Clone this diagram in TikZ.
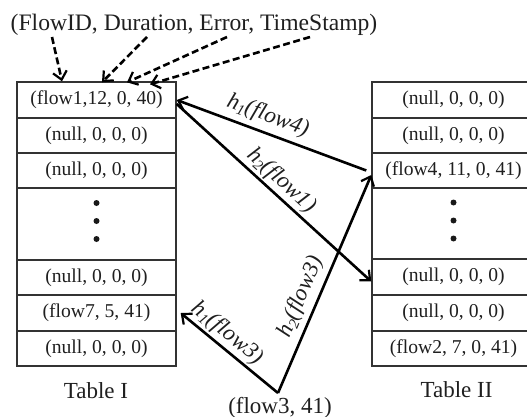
\documentclass[tikz,border=0pt]{standalone}
\usepackage{fontspec}
\setmainfont{Liberation Serif}
\usetikzlibrary{arrows.meta}
% hash function label: h_i(flow)
\newcommand{\hfn}[2]{\textit{h}\raisebox{-0.35ex}{\fontsize{15}{15}\selectfont\textit{#1}}\textit{(#2)}}

\begin{document}
\begin{tikzpicture}[x=1pt,y=-1pt,
  cell/.style={draw=black!80, line width=1.4pt, inner sep=0pt,
    font=\fontsize{19.6}{22}\selectfont, text=black!88},
  cellA/.style={cell, minimum width=159pt},
  cellB/.style={cell, minimum width=163pt},
  caption/.style={inner sep=0pt, anchor=base, font=\fontsize{23}{26}\selectfont, text=black!88},
  lab/.style={inner sep=2pt, font=\fontsize{23}{26}\selectfont, text=black!88},
  arr/.style={-{Straight Barb[length=8pt,width=14pt,line width=2.2pt]}, line width=2.6pt},
  dasharr/.style={arr, dash pattern=on 7pt off 3.5pt},
  dot/.style={fill=black!90}
]
\useasboundingbox (0,0) rectangle (527,417);

% header with the tuple fields
\node[caption, font=\fontsize{23.6}{26}\selectfont] (hdr) at (194,31) {(FlowID, Duration, Error, TimeStamp)};

% Table I
\node[cellA, minimum height=36pt] (a1) at (96.5,100)   {(flow1,12, 0, 40)};
\node[cellA, minimum height=35pt] (a2) at (96.5,135.5) {(null, 0, 0, 0)};
\node[cellA, minimum height=35pt] (a3) at (96.5,170.5) {(null, 0, 0, 0)};
\node[cellA, minimum height=72pt] (a4) at (96.5,224)   {};
\node[cellA, minimum height=35pt] (a5) at (96.5,277.5) {(null, 0, 0, 0)};
\node[cellA, minimum height=36pt] (a6) at (96.5,313)   {(flow7, 5, 41)};
\node[cellA, minimum height=35pt] (a7) at (96.5,348.5) {(null, 0, 0, 0)};
\foreach \d in {-21,-3,15} \fill[dot] ([yshift=-\d pt]a4.center) circle (3pt);
\node[caption] (capA) at (96,398) {Table I};

% Table II
\node[cellB, minimum height=36pt] (b1) at (453.5,100)   {(null, 0, 0, 0)};
\node[cellB, minimum height=35pt] (b2) at (453.5,135.5) {(null, 0, 0, 0)};
\node[cellB, minimum height=35pt] (b3) at (453.5,170.5) {(flow4, 11, 0, 41)};
\node[cellB, minimum height=71pt] (b4) at (453.5,223.5) {};
\node[cellB, minimum height=36pt] (b5) at (453.5,277)   {(null, 0, 0, 0)};
\node[cellB, minimum height=36pt] (b6) at (453.5,313)   {(null, 0, 0, 0)};
\node[cellB, minimum height=35pt] (b7) at (453.5,348.5) {(flow2, 7, 0, 41)};
\foreach \d in {-21,-3,15} \fill[dot] ([yshift=-\d pt]b4.center) circle (3pt);
\node[caption] (capB) at (456.5,397) {Table II};

% incoming item
\node[caption] (src) at (280,413) {(flow3, 41)};
\coordinate (v) at (278,393);

% field pointers
\draw[dasharr] ([shift={(-142,6)}]hdr.base) -- ([shift={(-34.5,0)}]a1.north);
\draw[dasharr] ([shift={(-47,6)}]hdr.base)  -- ([shift={(5.5,1)}]a1.north);
\draw[dasharr] ([shift={(33,6)}]hdr.base)   -- ([shift={(30.5,1)}]a1.north);
\draw[dasharr] ([shift={(116,6)}]hdr.base)  -- ([shift={(53.5,3)}]a1.north);

% hashing moves
\draw[arr] ([xshift=-5pt]b3.west) -- node[lab, sloped, above=3pt, pos=0.55] {\hfn{1}{flow4}} (a1.east);
\draw[arr] ([yshift=-4pt]a1.east) -- node[lab, sloped, above, pos=0.49] {\hfn{2}{flow1}} ([yshift=-4.5pt]b5.west);
\draw[arr] (v) -- node[lab, sloped, above=3pt, pos=0.41] {\hfn{2}{flow3}} ([yshift=-4.5pt]b3.west);
\draw[arr] (v) -- node[lab, sloped, above, pos=0.61] {\hfn{1}{flow3}} ([xshift=4pt]a6.east);
\end{tikzpicture}
\end{document}
